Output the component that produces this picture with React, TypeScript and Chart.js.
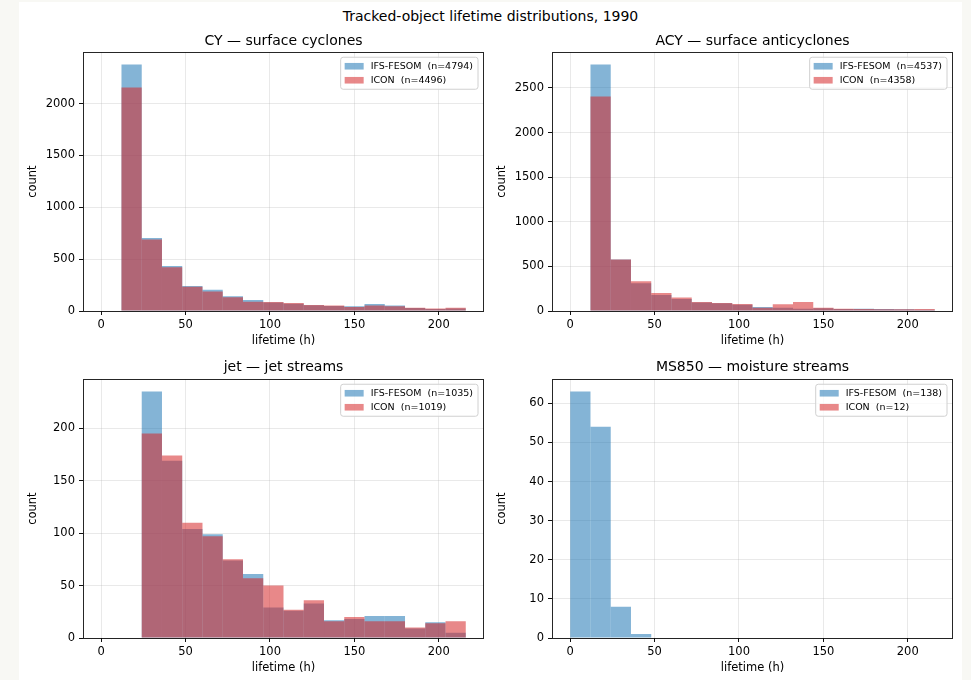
import React, { useEffect, useRef } from "react";
import { Chart, registerables } from "chart.js";

Chart.register(...registerables);

// ---- data ----
const binCenters = [6, 18, 30, 42, 54, 66, 78, 90, 102, 114, 126, 138, 150, 162, 174, 186, 198, 210];
const binWidth = 12;
const xTickStep = 50;
const seriesNames = ["IFS-FESOM", "ICON"];

const cyIfs = [0, 2377, 703, 435, 242, 206, 142, 106, 81, 71, 55, 48, 45, 68, 52, 29, 19, 23];
const cyIcon = [0, 2155, 690, 423, 235, 187, 132, 90, 87, 77, 58, 52, 39, 52, 45, 32, 23, 32];
const cyN = [4794, 4496];

const acyIfs = [0, 2762, 576, 311, 180, 135, 94, 86, 71, 45, 37, 26, 30, 22, 26, 22, 19, 15];
const acyIcon = [0, 2403, 578, 333, 202, 150, 101, 90, 79, 37, 75, 101, 37, 26, 22, 19, 19, 22];
const acyN = [4537, 4358];

const jetIfs = [0, 0, 235, 169, 104, 99, 74, 61, 29, 26, 33, 17, 18, 21, 21, 9, 15, 5];
const jetIcon = [0, 0, 195, 174, 110, 97, 75, 57, 50, 27, 36, 16, 20, 16, 16, 10, 14, 16];
const jetN = [1035, 1019];

const msIfs = [63, 54, 8, 1, 0, 0, 0, 0, 0, 0, 0, 0, 0, 0, 0, 0, 0, 0];
const msIcon = [0, 0, 0, 0, 0, 0, 0, 0, 0, 0, 0, 0, 0, 0, 0, 0, 0, 0];
const msN = [138, 12];

const panelTitles = [
  "CY \u2014 surface cyclones",
  "ACY \u2014 surface anticyclones",
  "jet \u2014 jet streams",
  "MS850 \u2014 moisture streams",
];
const yTickSteps = [500, 500, 50, 10];
const suptitle = "Tracked-object lifetime distributions, 1990";
const xAxisLabel = "lifetime (h)";
const yAxisLabel = "count";

// ---- styles ----
const FONT = '"DejaVu Sans", sans-serif';
const BLUE = "rgba(31,119,180,0.55)";
const RED = "rgba(214,39,40,0.55)";
const GRID = "rgba(176,176,176,0.35)";
const INK = "#111";

const panels = [
  { title: panelTitles[0], ifs: cyIfs, icon: cyIcon, n: cyN, step: yTickSteps[0], left: 19, top: 24, tpad: 9 },
  { title: panelTitles[1], ifs: acyIfs, icon: acyIcon, n: acyN, step: yTickSteps[1], left: 488, top: 24, tpad: 9 },
  { title: panelTitles[2], ifs: jetIfs, icon: jetIcon, n: jetN, step: yTickSteps[2], left: 19, top: 351, tpad: 8 },
  { title: panelTitles[3], ifs: msIfs, icon: msIcon, n: msN, step: yTickSteps[3], left: 488, top: 351, tpad: 8 },
];

const CANVAS_W = 472;
const CANVAS_H = 327;

const framePlugin = {
  id: "mplFrameLegend",
  afterDatasetsDraw(chart: any) {
    const { ctx, chartArea } = chart;
    const { left, top, right, bottom } = chartArea;
    ctx.save();
    // frame
    ctx.strokeStyle = "rgba(0,0,0,0.85)";
    ctx.lineWidth = 1;
    ctx.strokeRect(Math.round(left) + 0.5, Math.round(top) + 0.5, Math.round(right - left) - 1, Math.round(bottom - top));
    // legend
    const fs = 9.5;
    ctx.font = `${fs}px ${FONT}`;
    const ds = chart.data.datasets;
    let maxW = 0;
    ds.forEach((d: any) => {
      maxW = Math.max(maxW, ctx.measureText(d.label).width);
    });
    const w = 4 + 19 + 7 + maxW + 5;
    const h = 32;
    const x = right - 6 - w;
    const y = top + 5;
    ctx.beginPath();
    const r = 2.5;
    ctx.moveTo(x + r, y);
    ctx.lineTo(x + w - r, y);
    ctx.quadraticCurveTo(x + w, y, x + w, y + r);
    ctx.lineTo(x + w, y + h - r);
    ctx.quadraticCurveTo(x + w, y + h, x + w - r, y + h);
    ctx.lineTo(x + r, y + h);
    ctx.quadraticCurveTo(x, y + h, x, y + h - r);
    ctx.lineTo(x, y + r);
    ctx.quadraticCurveTo(x, y, x + r, y);
    ctx.closePath();
    ctx.fillStyle = "rgba(255,255,255,0.8)";
    ctx.fill();
    ctx.strokeStyle = "#d0d0d0";
    ctx.lineWidth = 1;
    ctx.stroke();
    ds.forEach((d: any, i: number) => {
      const cy = y + 9 + i * 14;
      ctx.fillStyle = d.backgroundColor;
      ctx.fillRect(x + 4, cy - 3.3, 19, 6.6);
      ctx.fillStyle = "#000";
      ctx.textBaseline = "middle";
      ctx.textAlign = "left";
      ctx.fillText(d.label, x + 30, cy + 0.5);
    });
    ctx.restore();
  },
};

function stepTicks(scale: any, step: number) {
  const out: any[] = [];
  const start = Math.ceil(scale.min / step) * step;
  for (let v = start; v <= scale.max + 1e-9; v += step) out.push({ value: v });
  scale.ticks = out;
}

function Panel({ p }: { p: any }) {
  const ref = useRef<HTMLCanvasElement | null>(null);
  useEffect(() => {
    if (!ref.current) return;
    const xMin = binCenters[0] - binWidth / 2;
    const xMax = binCenters[binCenters.length - 1] + binWidth / 2;
    const span = xMax - xMin;
    const yMax = Math.max(...p.ifs, ...p.icon) * 1.05;
    const barCommon = {
      borderWidth: 0,
      grouped: false,
      barPercentage: 1,
      categoryPercentage: 1,
      inflateAmount: 0,
    };
    const chart = new Chart(ref.current, {
      type: "bar",
      data: {
        datasets: [
          {
            label: `${seriesNames[0]}  (n=${p.n[0]})`,
            data: binCenters.map((x, i) => ({ x, y: p.ifs[i] })),
            backgroundColor: BLUE,
            order: 1,
            ...barCommon,
          },
          {
            label: `${seriesNames[1]}  (n=${p.n[1]})`,
            data: binCenters.map((x, i) => ({ x, y: p.icon[i] })),
            backgroundColor: RED,
            order: 0,
            ...barCommon,
          },
        ] as any,
      },
      options: {
        responsive: false,
        animation: false,
        devicePixelRatio: 1,
        layout: { padding: { left: 0, right: 7, top: 0, bottom: 0 } },
        plugins: {
          legend: { display: false },
          tooltip: { enabled: false },
          title: {
            display: true,
            text: p.title,
            fullSize: false,
            color: "#000",
            font: { family: FONT, size: 14, weight: "normal" },
            padding: { top: p.tpad, bottom: 11.44 - p.tpad },
          },
        },
        scales: {
          x: {
            type: "linear",
            min: xMin - 0.05 * span,
            max: xMax + 0.05 * span,
            offset: false,
            afterFit: (s: any) => {
              s.height = 40;
            },
            afterBuildTicks: (s: any) => stepTicks(s, xTickStep),
            border: { display: false },
            grid: {
              offset: false,
              color: GRID,
              lineWidth: 0.8,
              tickColor: INK,
              tickLength: 4,
              tickWidth: 1,
            },
            ticks: {
              color: "#000",
              padding: 3,
              maxRotation: 0,
              autoSkip: false,
              callback: (v: any) => String(Math.round(Number(v))),
              font: { family: FONT, size: 11.5 },
            },
            title: {
              display: true,
              text: xAxisLabel,
              color: "#000",
              font: { family: FONT, size: 11.5 },
              padding: { top: 0, bottom: 3.1 },
            },
          },
          y: {
            type: "linear",
            min: 0,
            max: yMax,
            afterFit: (s: any) => {
              s.width = 64;
            },
            afterBuildTicks: (s: any) => stepTicks(s, p.step),
            border: { display: false },
            grid: {
              offset: false,
              color: GRID,
              lineWidth: 0.8,
              tickColor: INK,
              tickLength: 4,
              tickWidth: 1,
            },
            ticks: {
              color: "#000",
              padding: 4,
              autoSkip: false,
              callback: (v: any) => String(Math.round(Number(v))),
              font: { family: FONT, size: 11.5 },
            },
            title: {
              display: true,
              text: yAxisLabel,
              color: "#000",
              font: { family: FONT, size: 11.5 },
              padding: { top: 7.1, bottom: 0 },
            },
          },
        },
      } as any,
      plugins: [framePlugin],
    });
    return () => chart.destroy();
  }, [p]);
  return (
    <canvas
      ref={ref}
      width={CANVAS_W}
      height={CANVAS_H}
      style={{ position: "absolute", left: p.left, top: p.top, width: CANVAS_W, height: CANVAS_H }}
    />
  );
}

export default function App() {
  return (
    <div style={{ position: "absolute", left: 0, top: 0, width: 971, height: 680, background: "#f8f8f4", overflow: "hidden" }}>
      <div style={{ position: "absolute", left: 19, top: 2, width: 943, height: 678, background: "#ffffff" }} />
      <div
        style={{
          position: "absolute",
          left: 19,
          width: 943,
          top: 7,
          textAlign: "center",
          fontFamily: FONT,
          fontSize: 14,
          lineHeight: "18px",
          color: "#000",
        }}
      >
        {suptitle}
      </div>
      {panels.map((p, i) => (
        <Panel key={i} p={p} />
      ))}
    </div>
  );
}
